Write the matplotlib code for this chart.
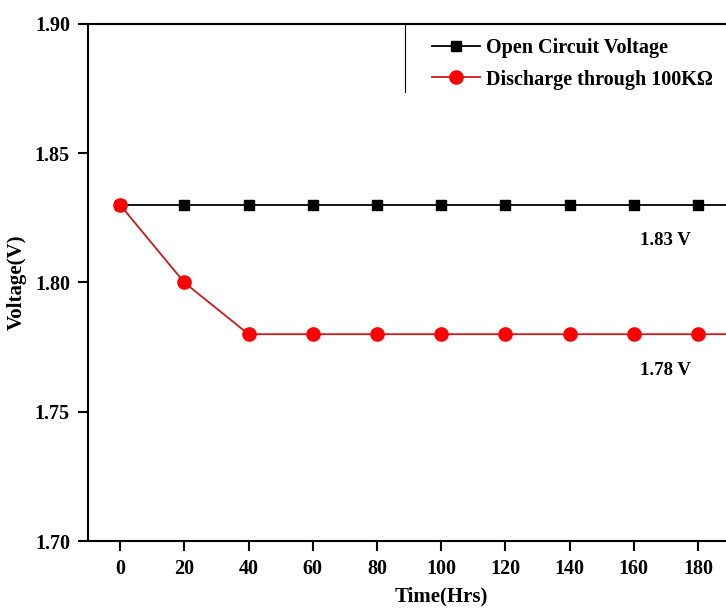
import numpy as np
import matplotlib
matplotlib.use('Agg')
import matplotlib.pyplot as plt
from matplotlib.lines import Line2D

# data
time_hrs = [0, 20, 40, 60, 80, 100, 120, 140, 160, 180, 200]
open_circuit = [1.83, 1.83, 1.83, 1.83, 1.83, 1.83, 1.83, 1.83, 1.83, 1.83, 1.83]
discharge = [1.83, 1.80, 1.78, 1.78, 1.78, 1.78, 1.78, 1.78, 1.78, 1.78, 1.78]
x_ticks = [0, 20, 40, 60, 80, 100, 120, 140, 160, 180]
y_ticks = [1.70, 1.75, 1.80, 1.85, 1.90]

plt.rcParams['font.family'] = ['Liberation Serif', 'DejaVu Serif']
plt.rcParams['font.weight'] = 'bold'

fig = plt.figure(figsize=(7.26, 6.12), dpi=100)
# axes runs past the right edge, like the cropped original
ax = fig.add_axes([0.1212, 0.116, 0.9728, 0.8448])

ax.plot(time_hrs, open_circuit, '-s', color='black', lw=1.3,
        markersize=7.5, label='Open Circuit Voltage')
ax.plot(time_hrs, discharge, '-o', color='#cc1a1a', lw=1.3,
        markersize=9.5, markerfacecolor='#ff0000', markeredgecolor='#ff0000',
        label='Discharge through 100K\u03a9')

ax.set_xlim(-10, 210)
ax.set_ylim(1.70, 1.90)
ax.set_xticks(x_ticks)
ax.set_yticks(y_ticks)
ax.set_yticklabels([f'{v:.2f}' for v in y_ticks])

for s in ax.spines.values():
    s.set_linewidth(1.5)
ax.tick_params(direction='out', length=7, width=1.5, labelsize=14.5, pad=6)
for lab in ax.get_xticklabels() + ax.get_yticklabels():
    lab.set_fontweight('bold')

ax.set_xlabel('Time(Hrs)', fontsize=15, fontweight='bold', labelpad=5)
ax.set_ylabel('Voltage(V)', fontsize=15, fontweight='bold', labelpad=6)

# value notes
ax.text(170, 1.8164, '1.83 V', ha='center', va='center', fontsize=13.5, fontweight='bold')
ax.text(170, 1.7658, '1.78 V', ha='center', va='center', fontsize=13.5, fontweight='bold')

leg = ax.legend(loc='upper left', bbox_to_anchor=(0.487, 0.972), frameon=False,
                borderaxespad=0, borderpad=0, handlelength=2.4, handletextpad=0.3,
                labelspacing=0.55, prop={'size': 14.5, 'weight': 'bold'})

# legend box left edge (bottom edge not visible in original)
ax.add_line(Line2D([0.449, 0.449], [1.0, 0.868], transform=ax.transAxes,
                   color='black', lw=0.8))

fig.savefig('out.png', dpi=100)
